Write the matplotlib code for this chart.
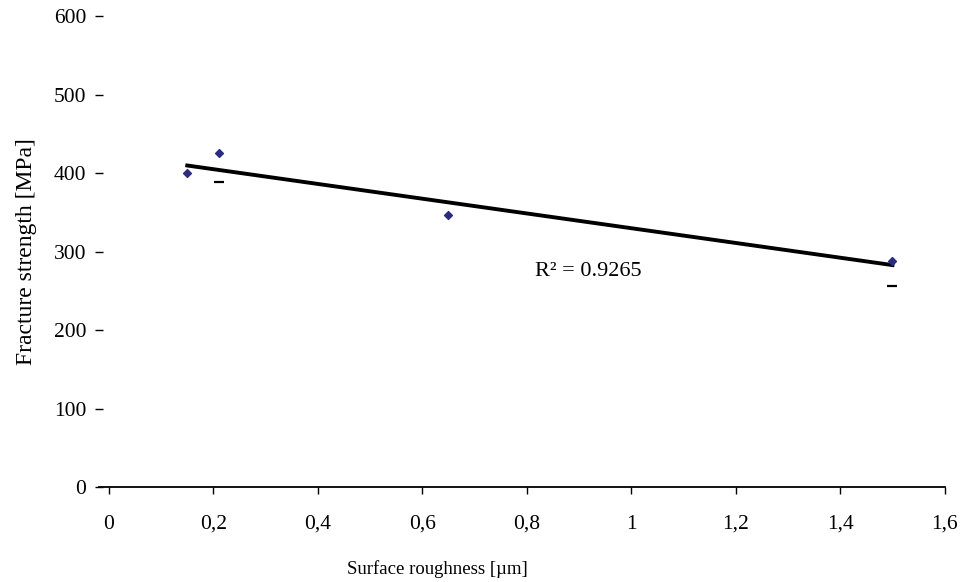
import numpy as np
import matplotlib.pyplot as plt

roughness_um = [0.15, 0.21, 0.65, 1.50]
strength_mpa = [400, 425, 346, 288]

# small dashes under two of the points (lower error marks)
dash_x = [0.21, 1.50]
dash_y = [388, 256]

x_ticks = [0, 0.2, 0.4, 0.6, 0.8, 1.0, 1.2, 1.4, 1.6]
x_tick_labels = ["0", "0,2", "0,4", "0,6", "0,8", "1", "1,2", "1,4", "1,6"]
y_ticks = [0, 100, 200, 300, 400, 500, 600]

plt.rcParams["font.family"] = ["Liberation Serif", "DejaVu Serif"]

fig = plt.figure(figsize=(9.6, 5.82), dpi=100)
# y axis sits a little left of x = 0, as in the original sheet
ax = fig.add_axes([0.1031, 0.163, 0.881, 0.8095])

# linear trend line over the data range
slope, intercept = np.polyfit(roughness_um, strength_mpa, 1)
xs = np.array([min(roughness_um), max(roughness_um)])
ax.plot(xs, slope * xs + intercept, color="black", linewidth=2.8, zorder=2)

ax.scatter(roughness_um, strength_mpa, marker="D", s=16, color="#2b2b80", zorder=3)
ax.scatter(dash_x, dash_y, marker="_", s=50, color="black", linewidths=1.6, zorder=3)

ax.text(0.815, 275, "R² = 0.9265", fontsize=16, ha="left", va="center")

ax.set_xlim(-0.019, 1.6)
ax.set_ylim(0, 600)
ax.set_xticks(x_ticks)
ax.set_xticklabels(x_tick_labels)
ax.set_yticks(y_ticks)

for side in ("top", "right", "left"):
    ax.spines[side].set_visible(False)
ax.spines["bottom"].set_linewidth(1.3)
ax.tick_params(axis="x", direction="out", length=5, width=1, labelsize=15.5, pad=15)
ax.tick_params(axis="y", direction="inout", length=6, width=1, labelsize=15.5, pad=6)

ax.set_xlabel("Surface roughness [µm]", fontsize=13.5)
ax.xaxis.set_label_coords(0.40, -0.155)
ax.set_ylabel("Fracture strength [MPa]", fontsize=17, labelpad=12)

fig.savefig("out.png", dpi=100)
